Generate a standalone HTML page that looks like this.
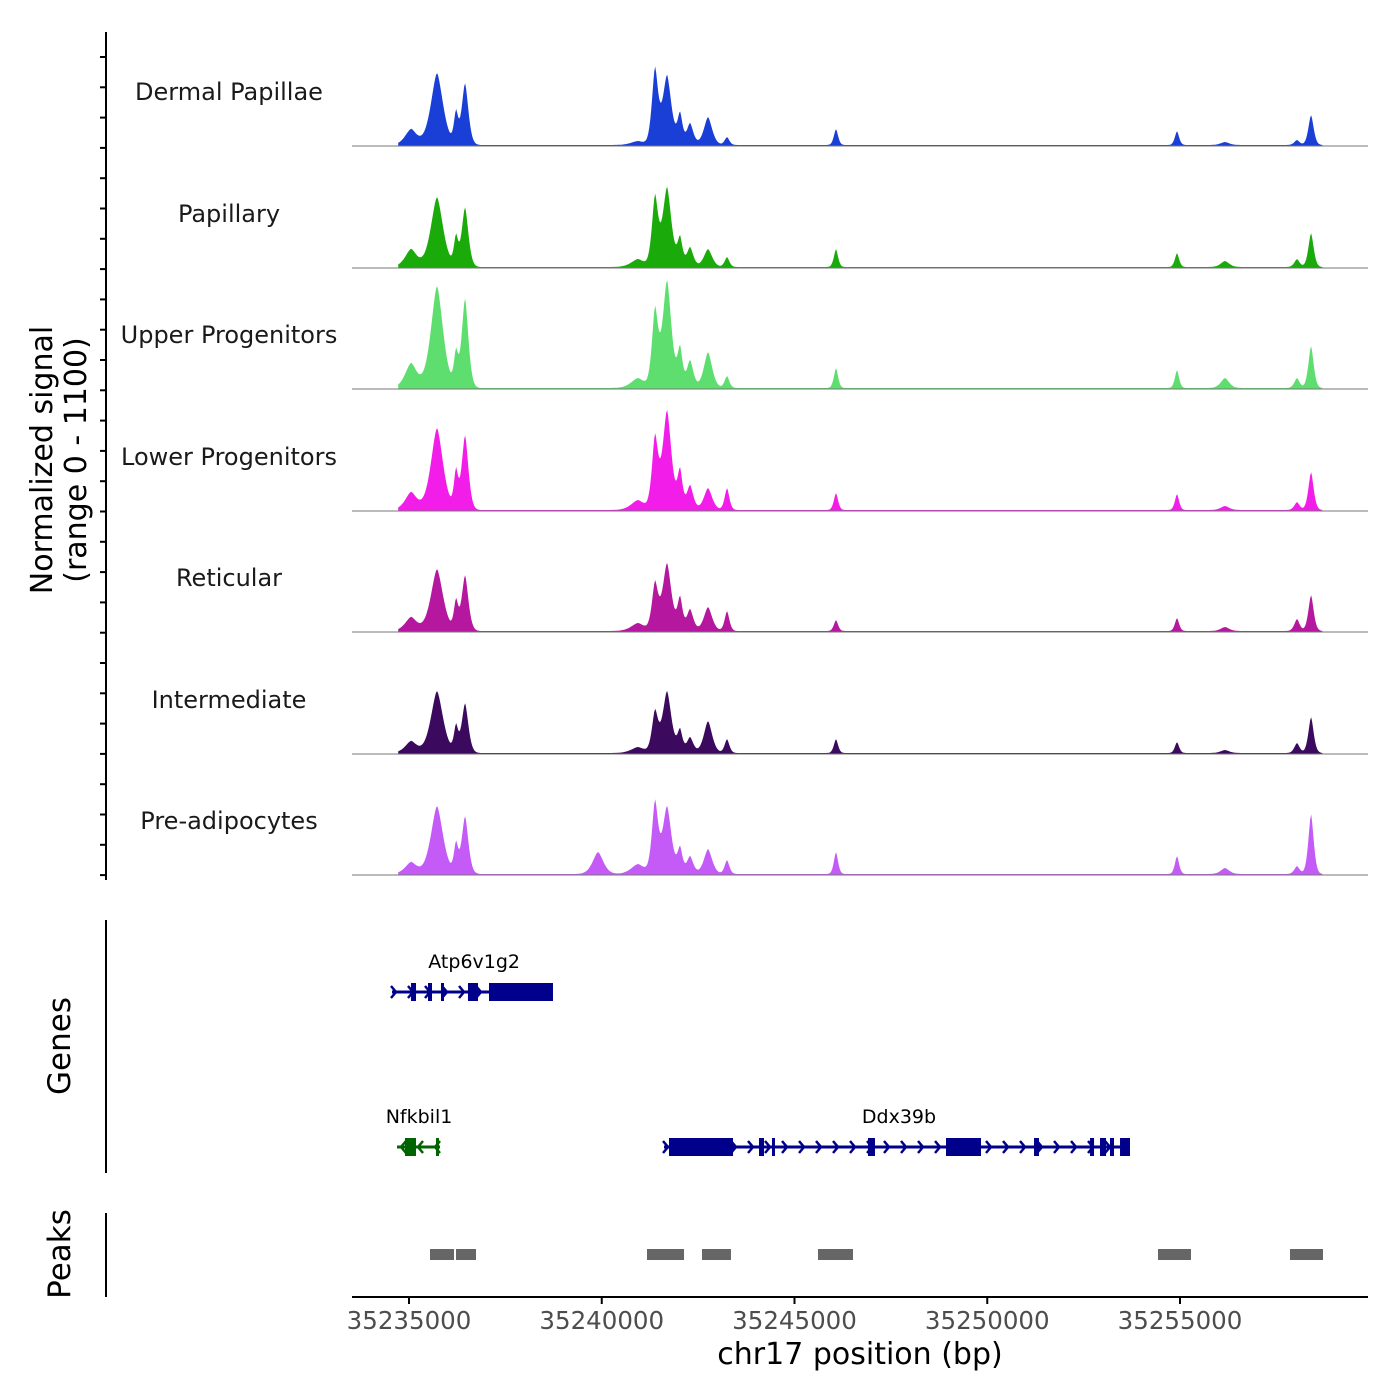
<!DOCTYPE html>
<html><head><meta charset="utf-8"><style>
html,body{margin:0;padding:0;background:#fff;}
svg{display:block;font-family:"DejaVu Sans","Liberation Sans",sans-serif;}
</style></head><body>
<svg id="chart" width="1400" height="1400" viewBox="0 0 1400 1400" xmlns="http://www.w3.org/2000/svg">
<g id="axes"></g>
<g id="tracks"></g>
<g id="genes"></g>
<g id="peaks"></g>
<text x="52" y="460" font-size="30" text-anchor="middle" transform="rotate(-90 52 460)"><tspan x="52" dy="0">Normalized signal</tspan><tspan x="52" dy="34">(range 0 - 1100)</tspan></text>
<text x="70" y="1046" font-size="31" text-anchor="middle" transform="rotate(-90 70 1046)">Genes</text>
<text x="70" y="1254" font-size="31" text-anchor="middle" transform="rotate(-90 70 1254)">Peaks</text>
<text x="860" y="1364" font-size="30" text-anchor="middle">chr17 position (bp)</text>
</svg>
<script>
const xTicks = [35235000, 35240000, 35245000, 35250000, 35255000];
const trackNames = ["Dermal Papillae","Papillary","Upper Progenitors","Lower Progenitors","Reticular","Intermediate","Pre-adipocytes"];
const trackColors = ["#1a3fd6","#1aaa0a","#5ede6e","#f21de8","#b5179e","#3b0a5e","#c45bf7"];
const peakCenters = [35235052,35235726,35236219,35236453,35239903,35240940,35241381,35241693,35242030,35242289,35242756,35243249,35246076,35254922,35256167,35258035,35258399];
const peakWidths = [420,440,150,240,380,480,220,320,180,240,300,170,150,150,300,190,190];
const hDermal = [16,72,30,62,0,4,74,70,30,22,28,8,16,14,3,5,30];
const hPapillary = [18,70,28,60,0,8,68,80,28,20,18,10,18,14,6,8,34];
const hUpper = [25,102,32,90,0,10,75,108,38,28,36,12,20,18,10,10,42];
const hLower = [18,82,36,75,0,10,70,100,38,25,22,22,17,16,4,8,38];
const hReticular = [14,62,28,56,0,8,46,68,32,22,24,20,11,13,4,12,36];
const hIntermediate = [12,62,25,50,0,6,40,62,22,16,32,14,14,11,3,10,36];
const hPreadipo = [12,68,28,58,22,10,70,68,25,18,25,14,22,18,6,8,60];
const trackHeights = [hDermal,hPapillary,hUpper,hLower,hReticular,hIntermediate,hPreadipo];
const geneNames = ["Atp6v1g2","Nfkbil1","Ddx39b"];
const geneStarts = [35234559,35234689,35241615];
const geneEnds = [35238735,35235804,35253703];
const geneStrand = [1,-1,1];
const geneLabelPos = [35236690,35235260,35247711];
const geneExons = [
 [[35235052,35235182],[35235493,35235597],[35235830,35235908],[35236530,35236790],[35237075,35238735]],
 [[35234896,35235182],[35235700,35235778]],
 [[35241744,35243405],[35244079,35244209],[35244416,35244468],[35246906,35247088],[35248930,35249838],[35251213,35251342],[35252666,35252770],[35252925,35253081],[35253184,35253288],[35253444,35253703]]
];
const peakStarts = [35235545,35236219,35241174,35242600,35245609,35254429,35257853];
const peakEnds = [35236168,35236738,35242134,35243352,35246517,35255285,35258709];

const NS="http://www.w3.org/2000/svg";
function mk(tag, attrs, parent){const e=document.createElementNS(NS,tag);for(const k in attrs)e.setAttribute(k,attrs[k]);parent.appendChild(e);return e;}
const X0=352,X1=1368;
function xs(bp){return 409+(bp-35235000)*(771/20000);}
const baselines=[146,268,389,511,632,754,875];
const axes=document.getElementById('axes');
let l=mk('line',{x1:106,y1:32,x2:106,y2:880,stroke:'#000','stroke-width':2},axes);

for(let i=0;i<28;i++){const y=57+i*30.3;if(y>880)break;
 const t=mk('line',{x1:100,y1:y,x2:106,y2:y,stroke:'#000','stroke-width':2},axes);
 }
l=mk('line',{x1:106,y1:920,x2:106,y2:1173,stroke:'#000','stroke-width':2},axes);

l=mk('line',{x1:106,y1:1213,x2:106,y2:1297,stroke:'#000','stroke-width':2},axes);

l=mk('line',{x1:X0,y1:1297,x2:X1,y2:1297,stroke:'#000','stroke-width':2},axes);

xTicks.forEach(v=>{const x=xs(v);
 const t=mk('line',{x1:x,y1:1297,x2:x,y2:1304,stroke:'#000','stroke-width':2},axes);
 
 const tx=mk('text',{x:x,y:1329,'font-size':24.5,'text-anchor':'middle',fill:'#4d4d4d'},axes);
 tx.textContent=v;
 });
const tg=document.getElementById('tracks');
trackNames.forEach((name,ti)=>{
 const b=baselines[ti];const hs=trackHeights[ti];
 let pts=[];
 const xa=xs(35234720), xb=xs(35258700);
 pts.push(xa+','+b);
 for(let x=xa;x<=xb;x+=1){
  let v=1;
  for(let k=0;k<peakCenters.length;k++){
   const c=xs(peakCenters[k]), s=peakWidths[k]*(771/20000)/2.6;
   const d=(x-c)/s; if(Math.abs(d)<4) v+=hs[k]*Math.exp(-Math.pow(Math.abs(d),1.6)/1.6);
  }
  pts.push(x.toFixed(1)+','+(b-v).toFixed(1));
 }
 pts.push(xb+','+b);
 const p=mk('polygon',{points:pts.join(' '),fill:trackColors[ti]},tg);
 
 
 const bl=mk('line',{x1:X0,y1:b,x2:X1,y2:b,stroke:'#777','stroke-width':1},tg);
 
 const lb=mk('text',{x:229,y:b-46,'font-size':24,'text-anchor':'middle',fill:'#1a1a1a'},tg);
 lb.textContent=name;
 
});
const gg=document.getElementById('genes');
const geneY=[992,1147,1147];
geneNames.forEach((g,gi)=>{
 const y=geneY[gi], col=gi===1?'#006400':'#00008b';
 const x1=xs(geneStarts[gi]), x2=xs(geneEnds[gi]);
 const ln=mk('line',{x1:x1,y1:y,x2:x2,y2:y,stroke:col,'stroke-width':3},gg);
 
 for(let x=x1+4;x<x2;x+=17){
  const d=geneStrand[gi]*5;
  const ch=mk('polyline',{points:(x-d)+','+(y-6)+' '+x+','+y+' '+(x-d)+','+(y+6),fill:'none',stroke:col,'stroke-width':2.5},gg);
  
 }
 geneExons[gi].forEach(e=>{
  const ex1=xs(e[0]),ex2=xs(e[1]);
  const r=mk('rect',{x:ex1,y:y-9,width:Math.max(3,ex2-ex1),height:18,fill:col},gg);
  
 });
 const lt=mk('text',{x:xs(geneLabelPos[gi]),y:y-24,'font-size':19,'text-anchor':'middle',fill:'#000'},gg);
 lt.textContent=g;
 
});
const pg=document.getElementById('peaks');
peakStarts.forEach((s,i)=>{
 const r=mk('rect',{x:xs(s),y:1249,width:xs(peakEnds[i])-xs(s),height:11,fill:'#666'},pg);
 
});
</script>
</body></html>
